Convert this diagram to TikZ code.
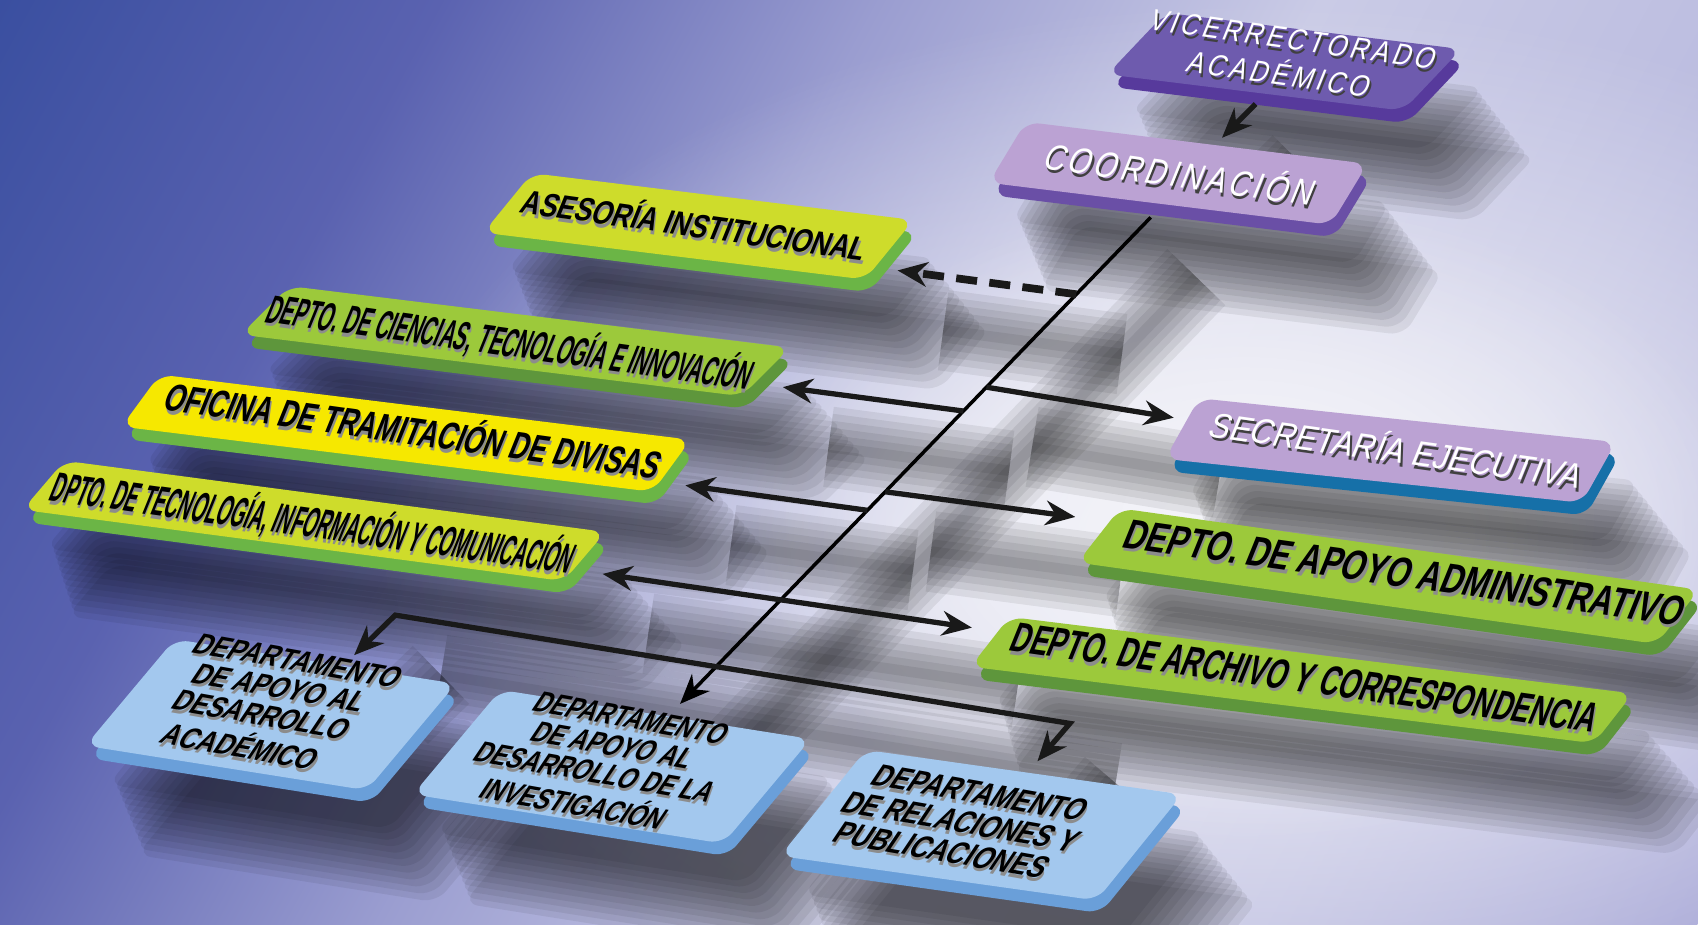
\documentclass[tikz,border=0pt]{standalone}
\usepackage{fontspec}
\setmainfont{Liberation Sans}
\usepackage{graphicx}
\usetikzlibrary{arrows.meta,calc,shadows,fadings}
\pgfdeclarelayer{bg}
\pgfsetlayers{bg,main}

\definecolor{bgA}{HTML}{3A4FA0}
\definecolor{bgB}{HTML}{5A62B0}
\definecolor{bgC}{HTML}{9A9DD0}
\definecolor{bgD}{HTML}{CACBE6}
\definecolor{bgE}{HTML}{BCBDE0}
\definecolor{bgF}{HTML}{A6A6D6}
\definecolor{glowc}{HTML}{F4F4F9}
\definecolor{viceF}{HTML}{6E5BAE}
\definecolor{viceS}{HTML}{573A9C}
\definecolor{lilacF}{HTML}{BBA2D3}
\definecolor{coordS}{HTML}{6A4FA6}
\definecolor{secrS}{HTML}{1670A8}
\definecolor{limeF}{HTML}{CEDC2B}
\definecolor{limeS}{HTML}{6BB546}
\definecolor{grassF}{HTML}{9CC93B}
\definecolor{grassS}{HTML}{5E963C}
\definecolor{sunF}{HTML}{F6E800}
\definecolor{skyF}{HTML}{A3C8EE}
\definecolor{skyS}{HTML}{6A9FD9}

\pgfdeclarehorizontalshading{backdrop}{100bp}{color(0bp)=(bgA); color(25bp)=(bgA);
  color(35bp)=(bgB); color(45bp)=(bgC); color(55bp)=(bgD); color(65bp)=(bgE); color(75bp)=(bgF); color(100bp)=(bgF)}
\tikzfading[name=glow, inner color=transparent!0, outer color=transparent!100]

\newlength\pxu
\setlength\pxu{0.01083cm}

% box text: width in px, shadow colour, lines
\newcommand\lbl[3]{%
  \resizebox{#1\pxu}{\height}{\def\tmp{\begin{tabular}{@{}c@{}}#3\end{tabular}}%
    \rlap{\kern1pt\raisebox{-1pt}{\color{#2}\tmp}}\tmp}}

\tikzset{
  castlayer/.style n args={3}{general shadow={fill=black, opacity=.068, shadow xshift=#1pt, shadow yshift=-#2pt, shadow scale=#3}},
  cast/.style={castlayer={6.5}{11}{1}, castlayer={7.45}{12.6}{1.006}, castlayer={8.4}{14.2}{1.012},
    castlayer={9.35}{15.8}{1.018}, castlayer={10.3}{17.4}{1.024}, castlayer={11.25}{19}{1.03},
    castlayer={12.2}{20.6}{1.036}, castlayer={13.15}{22.2}{1.042}, castlayer={14.1}{23.8}{1.048},
    castlayer={15.05}{25.4}{1.054}, castlayer={16}{27}{1.06}, castlayer={16.95}{28.6}{1.066}},
  plate/.style 2 args={fill=#1, rounded corners=4pt, inner sep=0pt, cast,
    general shadow={fill=#2, shadow xshift=1.2pt, shadow yshift=-3.6pt}},
  sz/.style 2 args={minimum width=#1*0.01083cm, minimum height=#2*0.01083cm},
  lbltxt/.style={inner sep=0pt, text=black, rotate=-8, xslant=.25},
  rod/.style={line width=1.5pt, draw=black!90},
  spine/.style={line width=1pt, draw=black},
  dashrod/.style={line width=2.2pt, dash pattern=on 6pt off 3.5pt},
  arrowed/.style={-{Stealth[length=8.5pt,width=7pt]}},
  twoway/.style={{Stealth[length=8.5pt,width=7pt]}-{Stealth[length=8.5pt,width=7pt]}},
  lineshade/.style={draw=black, line width=3pt, opacity=.07,
    preaction={draw=black, line width=7pt, opacity=.07},
    preaction={draw=black, line width=11pt, opacity=.07},
    preaction={draw=black, line width=15pt, opacity=.07},
    preaction={draw=black, line width=19pt, opacity=.07},
    preaction={draw=black, line width=23pt, opacity=.07}},
}

\begin{document}
\begin{tikzpicture}[x=0.01083cm, y=-0.01083cm]
  \useasboundingbox (0,0) rectangle (1568,854);
  % backdrop
  \begin{pgfonlayer}{bg}
    \begin{scope}
      \clip (0,0) rectangle (1568,854);
      \begin{scope}[transform canvas={rotate around={-28.6:(0,0)}}]
        \shade[shading=backdrop] (0,-1300) rectangle (1785,1300);
      \end{scope}
      \fill[glowc, path fading=glow] (1170,500) ellipse [x radius=820, y radius=500];
      \fill[glowc, path fading=glow] (1150,480) ellipse [x radius=460, y radius=300];
    \end{scope}
  \end{pgfonlayer}

  % boxes, back to front
  \node[plate={viceF}{viceS}, sz={275}{63}, rotate=-7, xslant=.74] (vice) at (1186,57) {};
  \node[lbltxt, text=white, font=\fontsize{8.6}{9.9}\selectfont\addfontfeature{LetterSpace=14}] (viceT) at (vice.center) {\lbl{265}{black!75}{VICERRECTORADO\\ACADÉMICO}};

  \node[plate={lilacF}{coordS}, sz={318}{60}, rotate=-7, xslant=.45] (coord) at (1088,160) {};
  \node[lbltxt, text=white, font=\fontsize{10.3}{12}\selectfont\addfontfeature{LetterSpace=12}] (coordT) at ([shift={(0,6)}]coord.center) {\lbl{250}{black!75}{COORDINACIÓN}};

  \node[plate={limeF}{limeS}, sz={355}{60}, rotate=-7, xslant=.63] (ases) at (645,209) {};
  \node[lbltxt, font=\bfseries\fontsize{9.5}{11}\selectfont] (asesT) at ([shift={(-5,3)}]ases.center) {\lbl{320}{black!45}{ASESORÍA INSTITUCIONAL}};

  \node[plate={grassF}{grassS}, sz={466}{50}, rotate=-7, xslant=.78] (cien) at (476,315) {};
  \node[lbltxt, font=\bfseries\fontsize{11.5}{12}\selectfont] (cienT) at ([shift={(-6,5)}]cien.center) {\lbl{450}{black!45}{DEPTO. DE CIENCIAS, TECNOLOGÍA E INNOVACIÓN}};

  \node[plate={lilacF}{secrS}, sz={387}{59}, rotate=-6, xslant=.43] (secr) at (1284,416) {};
  \node[lbltxt, text=white, font=\fontsize{10}{11}\selectfont] (secrT) at ([shift={(4,4)}]secr.center) {\lbl{345}{black!75}{SECRETARÍA EJECUTIVA}};

  \node[plate={sunF}{limeS}, sz={494}{52}, rotate=-7, xslant=.56] (ofic) at (375,400) {};
  \node[lbltxt, font=\bfseries\fontsize{11}{12}\selectfont] (oficT) at ([shift={(5,2)}]ofic.center) {\lbl{460}{black!45}{OFICINA DE TRAMITACIÓN DE DIVISAS}};

  \node[plate={limeF}{limeS}, sz={504}{50}, rotate=-7.5, xslant=.65] (tic) at (290,481) {};
  \node[lbltxt, font=\bfseries\fontsize{12}{13}\selectfont] (ticT) at ([shift={(-2,6)}]tic.center) {\lbl{485}{black!45}{DPTO. DE TECNOLOGÍA, INFORMACIÓN Y COMUNICACIÓN}};

  \node[plate={grassF}{grassS}, sz={540}{55}, rotate=-8, xslant=.58] (apoyo) at (1282,532) {};
  \node[lbltxt, font=\bfseries\fontsize{12}{13}\selectfont] (apoyoT) at ([shift={(13,3)}]apoyo.center) {\lbl{520}{black!45}{DEPTO. DE APOYO ADMINISTRATIVO}};

  \node[plate={grassF}{grassS}, sz={580}{50}, rotate=-7, xslant=.6] (arch) at (1202,628) {};
  \node[lbltxt, font=\bfseries\fontsize{12}{13}\selectfont] (archT) at ([shift={(1,4)}]arch.center) {\lbl{545}{black!45}{DEPTO. DE ARCHIVO Y CORRESPONDENCIA}};

  \node[plate={skyF}{skyS}, sz={263}{110}, rotate=-9, xslant=.6] (b1) at (250,660) {};
  \node[lbltxt, rotate=-2, xslant=.2, font=\bfseries\fontsize{8.5}{8.2}\selectfont] (b1T) at ([shift={(-5,-5)}]b1.center) {\lbl{193}{black!45}{DEPARTAMENTO\\DE APOYO AL\\DESARROLLO\\ACADÉMICO}};

  \node[plate={skyF}{skyS}, sz={290}{108}, rotate=-9, xslant=.6] (b2) at (565,708) {};
  \node[lbltxt, rotate=-2, xslant=.2, font=\bfseries\fontsize{8.5}{8.2}\selectfont] (b2T) at ([shift={(-12,0)}]b2.center) {\lbl{223}{black!45}{DEPARTAMENTO\\DE APOYO AL\\DESARROLLO DE LA\\INVESTIGACIÓN}};

  \node[plate={skyF}{skyS}, sz={295}{108}, rotate=-8, xslant=.6] (b3) at (906,762) {};
  \node[lbltxt, rotate=-2, xslant=.2, font=\bfseries\fontsize{9}{8.8}\selectfont] (b3T) at ([shift={(-22,2)}]b3.center) {\lbl{220}{black!45}{DEPARTAMENTO\\DE RELACIONES Y\\PUBLICACIONES}};

  % link ends
  \coordinate (vOut) at ([shift={(1,10)}]vice.south);
  \coordinate (cIn) at ([shift={(23,-4)}]coord.north);
  \coordinate (top) at ([shift={(-8,12)}]coord.south);
  \coordinate (end) at (628,650);
  \coordinate (k1) at ($(top)!.158!(end)$);
  \coordinate (k2) at ($(top)!.349!(end)$);
  \coordinate (k3) at ($(top)!.398!(end)$);
  \coordinate (k4) at ($(top)!.564!(end)$);
  \coordinate (k5) at ($(top)!.602!(end)$);
  \coordinate (asesIn) at ([shift={(7,19)}]ases.east);
  \coordinate (secrIn) at ([shift={(-7,-10)}]secr.west);
  \coordinate (cienIn) at ([shift={(15,14)}]cien.east);
  \coordinate (apoyoIn) at ([shift={(-21,-17)}]apoyo.west);
  \coordinate (oficIn) at ([shift={(12,18)}]ofic.east);
  \coordinate (ticIn) at ([shift={(16,16)}]tic.east);
  \coordinate (archIn) at ([shift={(-16,-13)}]arch.west);
  \coordinate (b1In) at (327,605);
  \coordinate (busL) at (365,568);
  \coordinate (busR) at (988,668);
  \coordinate (b3In) at (958,703);

  % links
  \draw[rod, arrowed] (vOut) -- (cIn);
  \draw[spine, arrowed] (top) -- (end);
  \draw[rod, dashrod, arrowed] (k1) -- (asesIn);
  \draw[rod, arrowed] (k2) -- (secrIn);
  \draw[rod, arrowed] (k3) -- (cienIn);
  \draw[rod, arrowed] (k4) -- (apoyoIn);
  \draw[rod, arrowed] (k5) -- (oficIn);
  \draw[rod, twoway] (ticIn) -- (archIn);
  \draw[rod, twoway] (b1In) -- (busL) -- (busR) -- (b3In);

  % soft shadows of the links
  \begin{pgfonlayer}{bg}
    \begin{scope}[transform canvas={shift={(13pt,-17pt)}}]
      \foreach \a/\b in {vOut/cIn, top/end, k1/asesIn, k2/secrIn, k3/cienIn, k4/apoyoIn,
                         k5/oficIn, ticIn/archIn, b1In/busL, busL/busR, busR/b3In}
        \draw[lineshade] (\a) -- (\b);
    \end{scope}
  \end{pgfonlayer}
\end{tikzpicture}
\end{document}
